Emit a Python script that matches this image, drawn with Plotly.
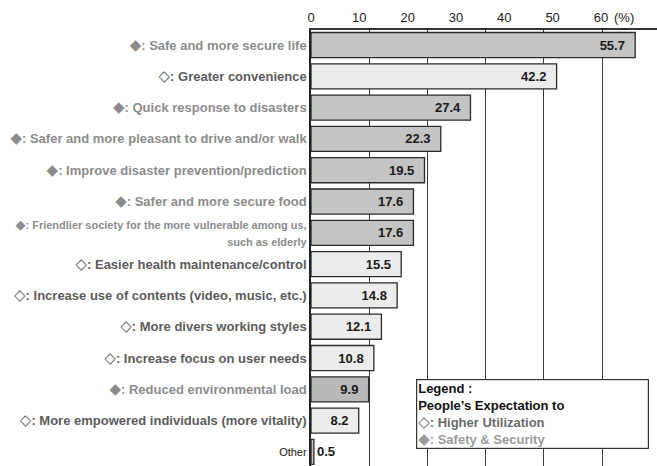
import plotly.graph_objects as go

categories = [
    "Safe and more secure life",
    "Greater convenience",
    "Quick response to disasters",
    "Safer and more pleasant to drive and/or walk",
    "Improve disaster prevention/prediction",
    "Safer and more secure food",
    "Friendlier society for the more vulnerable among us, such as elderly",
    "Easier health maintenance/control",
    "Increase use of contents (video, music, etc.)",
    "More divers working styles",
    "Increase focus on user needs",
    "Reduced environmental load",
    "More empowered individuals (more vitality)",
    "Other",
]
values = [55.7, 42.2, 27.4, 22.3, 19.5, 17.6, 17.6, 15.5, 14.8, 12.1, 10.8, 9.9, 8.2, 0.5]
# S = Safety & Security, U = Higher Utilization, O = other
groups = ["S", "U", "S", "S", "S", "S", "S", "U", "U", "U", "U", "S", "U", "O"]

axis_tick_vals = [0, 10, 20, 30, 40, 50, 60]
axis_tick_text = ["0", "10", "20", "30", "40", "50", "60"]

FONT = "Liberation Sans, Arial, DejaVu Sans, sans-serif"
SYMFONT = "DejaVu Sans"
fill = {"S": "#c4c4c4", "U": "#ececec", "O": "#c4c4c4"}
txtcol = {"S": "#8c8c8c", "U": "#5c5c5c", "O": "#111111"}
symbol = {"S": "\u25c6", "U": "\u25c7", "O": ""}

bar_colors = [fill[g] for g in groups]
bar_colors[11] = "#b9b9b9"


def sym(g, size=15):
    return f"<span style='font-family:{SYMFONT};font-size:{size}px'>{symbol[g]}</span>"


ticktext = []
for c, g in zip(categories, groups):
    if g == "O":
        ticktext.append(f"<span style='font-size:11px;color:{txtcol[g]}'>{c}</span>")
    elif c.startswith("Friendlier"):
        ticktext.append(
            f"<span style='font-size:11px;color:{txtcol[g]}'><b>{sym(g, 13)}: Friendlier society for the more vulnerable among us,</b></span><br>"
            f"<span style='font-size:11px;color:{txtcol[g]}'><b>such as elderly</b></span>"
        )
    else:
        ticktext.append(f"<span style='color:{txtcol[g]}'><b>{sym(g)}: {c}</b></span>")

bar_text = [f"{v}\u00a0\u00a0" if g != "O" else f"{v}" for v, g in zip(values, groups)]
text_pos = ["inside" if g != "O" else "outside" for g in groups]

fig = go.Figure()
fig.add_trace(go.Bar(
    x=values, y=categories, orientation="h",
    marker=dict(color=bar_colors, line=dict(color="#2a2a2a", width=1.3)),
    text=bar_text, textposition=text_pos, insidetextanchor="end",
    constraintext="none", cliponaxis=False,
    textfont=dict(family=FONT, size=13, color="#1a1a1a", weight="bold"),
    width=0.8, hoverinfo="skip", showlegend=False,
))
# invisible trace to carry the label axis
fig.add_trace(go.Scatter(
    x=[0], y=[categories[0]], xaxis="x2", mode="markers",
    marker=dict(opacity=0), hoverinfo="skip", showlegend=False,
))

fig.update_layout(
    width=657, height=466,
    margin=dict(l=311, r=0, t=30, b=0),
    paper_bgcolor="white", plot_bgcolor="white",
    font=dict(family=FONT, size=13, color="#222222"),
    xaxis=dict(
        side="top", range=[0, 59.45], dtick=10, tick0=0,
        showgrid=True, gridcolor="#3a3a3a", gridwidth=1,
        showline=True, linecolor="#333333", linewidth=1.5,
        ticks="inside", ticklen=3, tickcolor="#333333",
        showticklabels=False, zeroline=False, fixedrange=True,
    ),
    xaxis2=dict(
        overlaying="x", side="top", range=[0, 71.6],
        tickmode="array", tickvals=axis_tick_vals, ticktext=axis_tick_text,
        showgrid=False, showline=False, ticks="", zeroline=False,
        tickfont=dict(family=FONT, size=13, color="#222222"),
        ticklabelstandoff=4,
    ),
    yaxis=dict(
        categoryorder="array", categoryarray=categories,
        range=[13.45, -0.48],
        tickmode="array", tickvals=categories, ticktext=ticktext,
        showline=True, linecolor="#222222", linewidth=1.5,
        ticks="", showgrid=False, zeroline=False,
        tickfont=dict(family=FONT, size=13),
    ),
    bargap=0.2,
)

fig.add_annotation(
    text="(%)", xref="paper", yref="paper", x=(612 - 311) / 346, y=1,
    xanchor="left", yanchor="bottom", yshift=3, showarrow=False,
    font=dict(family=FONT, size=13, color="#222222"),
)

legend_text = (
    "<b>Legend :</b><br>"
    "<b>People\u2019s Expectation to</b><br>"
    f"<span style='color:#6a6a6a'><b>{sym('U')}: Higher Utilization</b></span><br>"
    f"<span style='color:#9a9a9a'><b>{sym('S')}: Safety &amp; Security</b></span>"
)
fig.add_annotation(
    text=legend_text, xref="paper", yref="paper",
    x=(416 - 311) / 346, y=1 - (379 - 30) / 436,
    xanchor="left", yanchor="top", align="left", showarrow=False,
    bgcolor="white", bordercolor="#333333", borderwidth=1.2, borderpad=1,
    width=229, height=66,
    font=dict(family=FONT, size=13, color="#111111"),
)

fig.write_html("out.html")
